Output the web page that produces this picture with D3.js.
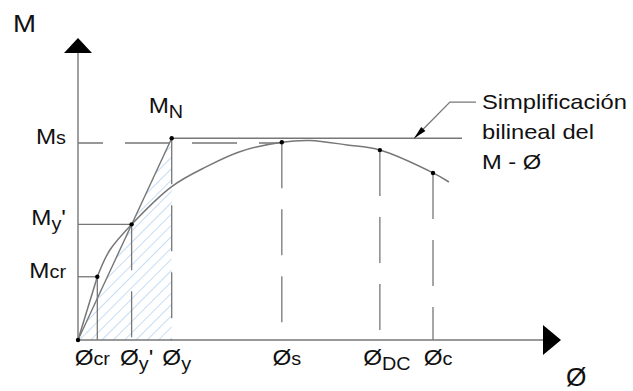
<!DOCTYPE html>
<html>
<head>
<meta charset="utf-8">
<script src="https://cdn.jsdelivr.net/npm/d3@7"></script>
<style>
  html, body { margin: 0; padding: 0; background: #fff; }
  svg { display: block; }
  text { font-family: "Liberation Sans", Arial, sans-serif; fill: #111; }
</style>
</head>
<body>
<svg id="chart" width="633" height="391"></svg>
<script>
// Moment–curvature (M–Ø) diagram with its bilinear simplification.

// Curvature marks on the Ø axis
const phiSubs   = ["cr", "y'", "y", "s", "DC", "c"];
const phiValues = [0.40, 1.11, 1.94, 4.22, 6.25, 7.35];

// Moment marks on the M axis
const momentSubs   = ["cr", "y'", "s"];
const momentValues = [0.321, 0.587, 1.0];
const momentNominal = 1.024;   // M_N, plateau of the bilinear idealisation

// Actual M–Ø response (first branch up to cracking is linear)
const curvePhi = [0, 0.40, 0.66, 1.11, 1.94, 2.66, 3.35, 4.22, 4.80, 5.57, 6.25, 7.35, 7.68];
const curveM   = [0, 0.321, 0.457, 0.587, 0.779, 0.880, 0.956, 1.004, 1.013, 0.990, 0.964, 0.848, 0.802];

// Bilinear simplification: origin -> (Ø_y, M_N) -> plateau end
const bilinearPhi = [0, 1.94, 7.95];
const bilinearM   = [0, 1.024, 1.024];

// Callout leader (tip, elbow, end)
const leaderPhi = [6.96, 7.70, 8.24];
const leaderM   = [1.024, 1.208, 1.208];
const calloutLines = ["Simplificación", "bilineal del", "M - Ø"];

const svg = d3.select("#chart");
const x = d3.scaleLinear().domain([0, 10]).range([78, 561]);
const y = d3.scaleLinear().domain([0, 1.533]).range([340, 38]);

const grey = "#777";

const curveAt = phi => {
  const i = curvePhi.indexOf(phi);
  return i >= 0 ? curveM[i] : null;
};
const topOfPhi = [curveM[1], curveM[3], momentNominal, curveAt(4.22), curveAt(6.25), curveAt(7.35)];

// Hatch pattern for the elastic-energy triangle
const defs = svg.append("defs");
defs.append("pattern")
  .attr("id", "hatch")
  .attr("patternUnits", "userSpaceOnUse")
  .attr("width", 8).attr("height", 8)
  .attr("patternTransform", "rotate(45)")
  .append("line")
  .attr("x1", 0).attr("y1", 0).attr("x2", 0).attr("y2", 8)
  .attr("stroke", "#9fc6ec").attr("stroke-width", 1.2);

const line = d3.line().x(d => x(d[0])).y(d => y(d[1]));

// hatched area under the initial branch of the bilinear model
svg.append("path")
  .attr("d", line([[0, 0], [bilinearPhi[1], bilinearM[1]], [bilinearPhi[1], 0]]) + "Z")
  .attr("fill", "url(#hatch)");

// horizontal guides
svg.append("line")
  .attr("x1", x(0)).attr("x2", x(phiValues[3]))
  .attr("y1", y(momentValues[2])).attr("y2", y(momentValues[2]))
  .attr("stroke", grey).attr("stroke-width", 1.3)
  .attr("stroke-dasharray", "45,22").attr("stroke-dashoffset", 20);
[[0, 0], [1, 1]].forEach(([mi, pi]) => {
  svg.append("line")
    .attr("x1", x(0)).attr("x2", x(phiValues[pi]))
    .attr("y1", y(momentValues[mi])).attr("y2", y(momentValues[mi]))
    .attr("stroke", grey).attr("stroke-width", 1.3);
});

// vertical guides
phiValues.forEach((p, i) => {
  svg.append("line")
    .attr("x1", x(p)).attr("x2", x(p))
    .attr("y1", y(topOfPhi[i])).attr("y2", y(0))
    .attr("stroke", grey).attr("stroke-width", 1.3)
    .attr("stroke-dasharray", i === 0 ? null : "46,21");
});

// actual response: linear to cracking, smooth afterwards
const pts = curvePhi.map((p, i) => [p, curveM[i]]);
svg.append("path")
  .attr("d", line(pts.slice(0, 2)))
  .attr("fill", "none").attr("stroke", grey).attr("stroke-width", 1.5);
svg.append("path")
  .attr("d", d3.line().x(d => x(d[0])).y(d => y(d[1])).curve(d3.curveCatmullRom.alpha(0.5))(pts.slice(1)))
  .attr("fill", "none").attr("stroke", grey).attr("stroke-width", 1.5);

// bilinear idealisation
svg.append("path")
  .attr("d", line(bilinearPhi.map((p, i) => [p, bilinearM[i]])))
  .attr("fill", "none").attr("stroke", grey).attr("stroke-width", 1.4);

// axes with arrow heads
svg.append("line").attr("x1", x(0)).attr("x2", x(0)).attr("y1", y(0)).attr("y2", y(0) - 290)
  .attr("stroke", grey).attr("stroke-width", 1.4);
svg.append("line").attr("x1", x(0)).attr("x2", x(10) - 18).attr("y1", y(0)).attr("y2", y(0))
  .attr("stroke", grey).attr("stroke-width", 1.4);
svg.append("path")
  .attr("d", `M${x(0)},${y(1.533)} L${x(0) + 14},${y(1.533) + 15} L${x(0) - 14},${y(1.533) + 15}Z`)
  .attr("fill", "#000");
svg.append("path")
  .attr("d", `M${x(10)},${y(0)} L${x(10) - 18},${y(0) - 15} L${x(10) - 18},${y(0) + 15}Z`)
  .attr("fill", "#000");

// callout leader with arrow
const lp = leaderPhi.map((p, i) => [p, leaderM[i]]);
svg.append("path").attr("d", line(lp)).attr("fill", "none")
  .attr("stroke", grey).attr("stroke-width", 1.3);
{
  const tx = x(lp[0][0]), ty = y(lp[0][1]);
  const ex = x(lp[1][0]), ey = y(lp[1][1]);
  const ang = Math.atan2(ey - ty, ex - tx);
  const L = 13, W = 3;
  const bx = tx + L * Math.cos(ang), by = ty + L * Math.sin(ang);
  svg.append("path")
    .attr("d", `M${tx},${ty} L${bx - W * Math.sin(ang)},${by + W * Math.cos(ang)} L${bx + W * Math.sin(ang)},${by - W * Math.cos(ang)}Z`)
    .attr("fill", "#000");
}

// points
const dots = [[0, 0], [phiValues[0], momentValues[0]], [phiValues[1], momentValues[1]],
  [bilinearPhi[1], momentNominal], [phiValues[3], topOfPhi[3]], [phiValues[4], topOfPhi[4]], [phiValues[5], topOfPhi[5]]];
svg.selectAll("circle.pt").data(dots).join("circle")
  .attr("class", "pt")
  .attr("cx", d => x(d[0])).attr("cy", d => y(d[1])).attr("r", 2.2).attr("fill", "#000");

// label helper: base symbol with subscript
const lowered = s => /^(y|N|DC)/.test(s);
function label(base, sub, px, py, anchor, size, sx) {
  const t = svg.append("text")
    .attr("transform", `translate(${px},${py}) scale(${sx || 1.1},1)`)
    .attr("text-anchor", anchor)
    .style("font-size", size + "px");
  t.append("tspan").text(base);
  if (sub) {
    const prime = sub.endsWith("'");
    const core = prime ? sub.slice(0, -1) : sub;
    const drop = lowered(core) ? 5 : 0;
    t.append("tspan").attr("dy", drop).style("font-size", (size - 4) + "px").text(core);
    if (prime) t.append("tspan").attr("dy", -drop).text("'");
  }
  return t;
}

// M-axis labels
momentSubs.forEach((s, i) => label("M", s, 66, y(momentValues[i]) + 1, "end", 22));
label("M", "N", x(bilinearPhi[1]) - 23, y(momentNominal) - 25, "start", 22);

// Ø-axis labels
const nudge = { "cr": -10, "DC": 2 };
phiSubs.forEach((s, i) => label("Ø", s, x(phiValues[i]) + 5 + (nudge[s] || 0), 365, "middle", 22));

// axis titles
label("M", null, 13, 32, "start", 24, 1.15);
label("Ø", null, 566, 386, "start", 25, 1.05);

// callout text
calloutLines.forEach((t, i) => {
  svg.append("text")
    .attr("transform", `translate(${x(leaderPhi[2]) + 6},${y(leaderM[2]) + 7 + i * 30}) scale(1.13,1)`)
    .style("font-size", "21px")
    .text(t);
});
</script>
</body>
</html>
